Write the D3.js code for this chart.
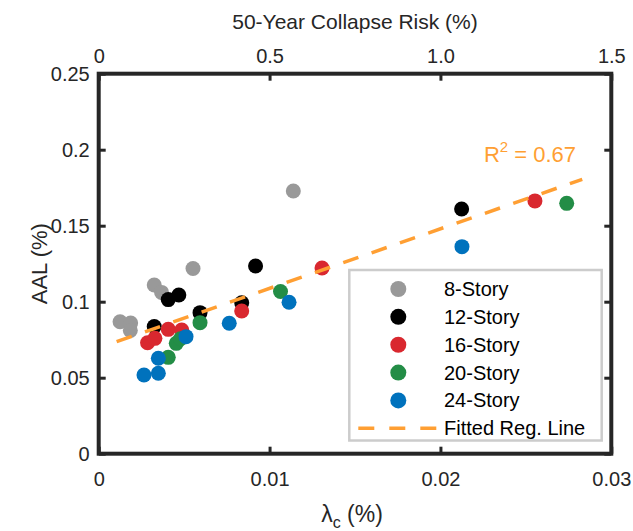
<!DOCTYPE html>
<html>
<head>
<meta charset="utf-8">
<script src="https://cdn.jsdelivr.net/npm/d3@7"></script>
<style>
  html, body { margin: 0; padding: 0; background: #fff; }
  svg { display: block; font-family: "Liberation Sans", Arial, sans-serif; }
</style>
</head>
<body>
<svg id="chart" width="633" height="531"></svg>
<script>
// ---------------- data ----------------
const seriesNames = ["8-Story", "12-Story", "16-Story", "20-Story", "24-Story"];
const seriesColors = ["#999999", "#000000", "#d9282f", "#238d46", "#0072bd"];

const story8_x  = [0.00125, 0.00187, 0.00185, 0.00325, 0.00368, 0.00552, 0.01139];
const story8_y  = [0.0868, 0.0860, 0.0811, 0.1110, 0.1061, 0.1218, 0.1728];
const story12_x = [0.00325, 0.00407, 0.00469, 0.00593, 0.00837, 0.00918, 0.02124];
const story12_y = [0.0837, 0.1014, 0.1044, 0.0928, 0.0993, 0.1235, 0.1610];
const story16_x = [0.00286, 0.00329, 0.00407, 0.00486, 0.00837, 0.01307, 0.02553];
const story16_y = [0.0730, 0.0759, 0.0818, 0.0814, 0.0939, 0.1222, 0.1663];
const story20_x = [0.00407, 0.00454, 0.00479, 0.00593, 0.01064, 0.02739];
const story20_y = [0.0634, 0.0726, 0.0756, 0.0862, 0.1067, 0.1647];
const story24_x = [0.00265, 0.00349, 0.00349, 0.00511, 0.00764, 0.01114, 0.02126];
const story24_y = [0.0518, 0.0529, 0.0628, 0.0770, 0.0858, 0.0996, 0.1362];

const fitLineX = [0.00105, 0.0283];
const fitLineY = [0.0737, 0.1805];
const r2Label = "0.67";

const xTicks = [0, 0.01, 0.02, 0.03];
const xTickLabels = ["0", "0.01", "0.02", "0.03"];
const topTicks = [0, 0.5, 1.0, 1.5];
const topTickLabels = ["0", "0.5", "1.0", "1.5"];
const yTicks = [0, 0.05, 0.1, 0.15, 0.2, 0.25];
const yTickLabels = ["0", "0.05", "0.1", "0.15", "0.2", "0.25"];

// ---------------- layout ----------------
const svg = d3.select("#chart");
const L = 98.7, R = 611.3, T = 73.7, B = 453.7;
const textColor = "#262626";
const orange = "#ff9f33";

const x = d3.scaleLinear().domain([0, 0.03]).range([L, R]);
const xTop = d3.scaleLinear().domain([0, 1.5]).range([L, R]);
const y = d3.scaleLinear().domain([0, 0.25]).range([B, T]);

const series = [
  [story8_x, story8_y], [story12_x, story12_y], [story16_x, story16_y],
  [story20_x, story20_y], [story24_x, story24_y]
].map((s, i) => ({ name: seriesNames[i], color: seriesColors[i],
  pts: s[0].map((v, j) => [v, s[1][j]]) }));

// points
const gPts = svg.append("g");
series.forEach(s => {
  gPts.selectAll(null).data(s.pts).enter().append("circle")
    .attr("cx", d => x(d[0])).attr("cy", d => y(d[1]))
    .attr("r", 7.5).attr("fill", s.color);
});

// fitted line
svg.append("line")
  .attr("x1", x(fitLineX[0])).attr("y1", y(fitLineY[0]))
  .attr("x2", x(fitLineX[1])).attr("y2", y(fitLineY[1]))
  .attr("stroke", orange).attr("stroke-width", 3.5)
  .attr("stroke-dasharray", "16,14");

// R^2 label
const r2 = svg.append("text").attr("x", 576).attr("y", 162)
  .attr("text-anchor", "end").attr("fill", orange).attr("font-size", 22);
r2.append("tspan").text("R");
r2.append("tspan").attr("font-size", 15).attr("dy", -10).text("2");
r2.append("tspan").attr("dy", 10).text(" = " + r2Label);

// axes
function styleAxis(g) {
  g.select(".domain").remove();
  g.selectAll(".tick line").attr("stroke", textColor).attr("stroke-width", 3);
  g.selectAll(".tick text").attr("fill", textColor).attr("font-size", 20)
    .attr("font-family", "'Liberation Sans', Arial, sans-serif");
}
const tickLen = 7;
svg.append("g").attr("transform", `translate(0,${B})`)
  .call(d3.axisBottom(x).tickValues(xTicks).tickFormat((d, i) => xTickLabels[i])
    .tickSizeInner(-tickLen).tickSizeOuter(0).tickPadding(18))
  .call(styleAxis);
svg.append("g").attr("transform", `translate(0,${T})`)
  .call(d3.axisTop(xTop).tickValues(topTicks).tickFormat((d, i) => topTickLabels[i])
    .tickSizeInner(-tickLen).tickSizeOuter(0).tickPadding(11))
  .call(styleAxis);
svg.append("g").attr("transform", `translate(${L},0)`)
  .call(d3.axisLeft(y).tickValues(yTicks).tickFormat((d, i) => yTickLabels[i])
    .tickSizeInner(-tickLen).tickSizeOuter(0).tickPadding(9))
  .call(styleAxis);
svg.append("g").attr("transform", `translate(${R},0)`)
  .call(d3.axisRight(y).tickValues(yTicks).tickFormat("")
    .tickSizeInner(-tickLen).tickSizeOuter(0))
  .call(styleAxis);

// frame
svg.append("rect").attr("x", L).attr("y", T).attr("width", R - L).attr("height", B - T)
  .attr("fill", "none").attr("stroke", textColor).attr("stroke-width", 4);

// axis titles
svg.append("text").attr("x", (L + R) / 2).attr("y", 29).attr("text-anchor", "middle")
  .attr("fill", textColor).attr("font-size", 21).text("50-Year Collapse Risk (%)");
const xt = svg.append("text").attr("x", 352).attr("y", 522).attr("text-anchor", "middle")
  .attr("fill", textColor).attr("font-size", 23);
xt.append("tspan").text("λ");
xt.append("tspan").attr("font-size", 16).attr("dy", 6).text("c");
xt.append("tspan").attr("dy", -6).text(" (%)");
svg.append("text").attr("transform", `translate(47,${(T + B) / 2}) rotate(-90)`)
  .attr("text-anchor", "middle").attr("fill", textColor).attr("font-size", 22).text("AAL (%)");

// legend
const lg = svg.append("g");
lg.append("rect").attr("x", 349.3).attr("y", 270).attr("width", 252.4).attr("height", 170.5)
  .attr("fill", "#fff").attr("stroke", "#cccccc").attr("stroke-width", 2.5);
const rowY = d3.scaleLinear().domain([0, 5]).range([289, 428.3]);
series.forEach((s, i) => {
  lg.append("circle").attr("cx", 398.3).attr("cy", rowY(i)).attr("r", 8).attr("fill", s.color);
  lg.append("text").attr("x", 444).attr("y", rowY(i) + 7).attr("fill", "#000")
    .attr("font-size", 20).text(s.name);
});
lg.append("line").attr("x1", 358.3).attr("x2", 437.3).attr("y1", rowY(5)).attr("y2", rowY(5))
  .attr("stroke", orange).attr("stroke-width", 3.5).attr("stroke-dasharray", "16,15");
lg.append("text").attr("x", 444).attr("y", rowY(5) + 7).attr("fill", "#000")
  .attr("font-size", 20).text("Fitted Reg. Line");
</script>
</body>
</html>
